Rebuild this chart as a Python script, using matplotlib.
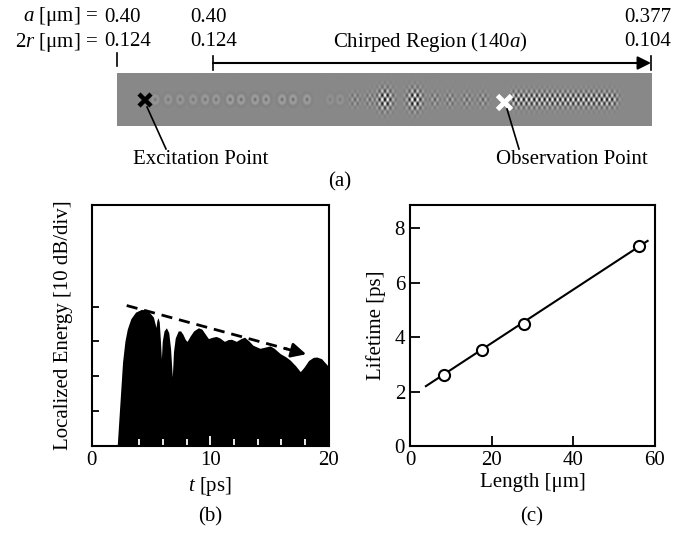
import numpy as np
import matplotlib
matplotlib.use("Agg")
import matplotlib.pyplot as plt
from matplotlib.ticker import MultipleLocator

plt.rcParams['font.family'] = ['Liberation Serif', 'DejaVu Serif']
plt.rcParams['mathtext.fontset'] = 'custom'
plt.rcParams['mathtext.rm'] = 'Liberation Serif'
plt.rcParams['mathtext.it'] = 'Liberation Serif:italic'
plt.rcParams['font.size'] = 15

# ---- data ----
# (a) field snapshot along the waveguide: blob centres (px along strip) and strengths
blob_x = [155, 168, 180, 193, 205, 216, 230, 241, 255, 266, 282, 293, 307,
          330, 340, 355, 370, 385, 415, 435, 450, 467, 483]
blob_a = [0.2, 0.2, 0.22, 0.22, 0.25, 0.25, 0.3, 0.3, 0.3, 0.3, 0.3, 0.3, 0.28,
          0.12, 0.15, 0.4, 0.45, 1.5, 1.5, 0.5, 0.5, 0.5, 0.5]
blob_w = [3.0] * 15 + [4.0, 4.0] + [5.5, 5.5] + [4.0] * 4
dense_start, dense_end, dense_amp = 511, 617, 1.2

# (b) localized energy vs time (div units)
t_ps = [0, 2.15, 2.3, 2.45, 2.6, 2.8, 3.0, 3.3, 3.7, 4.2, 4.6, 4.9, 5.2, 5.35,
        5.42, 5.5, 5.6, 5.7, 5.8, 5.88, 5.95, 6.1, 6.3, 6.5, 6.65, 6.8, 6.9,
        7.05, 7.3, 7.5, 7.7, 7.9, 8.05, 8.3, 8.6, 9.0, 9.3, 9.6, 9.85, 10.2,
        10.5, 10.8, 11.2, 11.5, 11.8, 12.2, 12.6, 12.9, 13.3, 13.6, 14.2, 14.7,
        15.05, 15.4, 15.9, 16.4, 16.75, 17.2, 17.6, 17.9, 18.3, 18.7, 19.0,
        19.4, 20.0]
energy = [0, 0, 0.8, 1.6, 2.4, 3.0, 3.35, 3.65, 3.84, 3.92, 3.9, 3.82, 3.7, 3.5,
          3.4, 3.6, 3.68, 3.55, 3.0, 2.5, 3.0, 3.3, 3.39, 3.25, 2.8, 1.98, 2.7,
          3.1, 3.3, 3.3, 3.2, 3.05, 3.0, 3.15, 3.3, 3.39, 3.35, 3.2, 3.08, 3.12,
          3.14, 3.1, 3.0, 3.05, 3.06, 3.0, 3.08, 3.12, 3.0, 2.89, 2.8, 2.84,
          2.87, 2.8, 2.65, 2.55, 2.46, 2.3, 2.13, 2.25, 2.45, 2.54, 2.55, 2.5,
          2.27]
trend_t = [2.95, 18.1]
trend_e = [4.03, 2.63]

# (c) lifetime vs length
length_um = [8.3, 17.6, 27.9, 56.2]
lifetime_ps = [2.62, 3.53, 4.47, 7.36]
fit_x = [3.9, 58.2]
fit_y = [2.2, 7.54]

fig = plt.figure(figsize=(6.8, 5.4), dpi=100)

# ---- (a) ----
top = fig.add_axes([0, 1 - 200 / 540, 1, 200 / 540])
top.set_xlim(0, 680)
top.set_ylim(200, 0)
top.axis('off')

xs = np.linspace(117, 652, 1100)
ys = np.linspace(-27, 27, 110)
X, Y = np.meshgrid(xs, ys)
field = np.zeros_like(X)
for bx, ba, bw in zip(blob_x, blob_a, blob_w):
    r = np.sqrt((X - bx) ** 2 + (0.75 * Y) ** 2)
    if bw > 3.5:
        # stronger blobs: checker-like core
        field -= ba * np.cos(2 * np.pi * (X - bx) / 5.5) * np.cos(2 * np.pi * Y / 9) * np.exp(-r ** 2 / (2 * bw ** 2))
    else:
        # weak blobs: small ring with a dark centre
        field -= ba * np.cos(2 * np.pi * r / 6.0) * np.exp(-r ** 2 / (2 * bw ** 2))
edge = 0.5 * (np.tanh((X - dense_start) / 2) - np.tanh((X - dense_end) / 4))
field += dense_amp * edge * np.cos(2 * np.pi * (X - dense_start) / 5.2) * np.cos(2 * np.pi * Y / 9) * np.exp(-Y ** 2 / (2 * 5.5 ** 2))
top.imshow(field, cmap='gray', vmin=-1.15, vmax=1.0, extent=(117, 652, 126, 73),
           aspect='auto', interpolation='bilinear')

top.plot([144.5], [100], marker='x', color='k', ms=9, mew=3.2)
top.plot([503.5], [102], marker='x', color='w', ms=10, mew=3.5)
top.plot([147, 166], [107, 149], color='k', lw=1.2)
top.plot([507, 519], [109, 149], color='k', lw=1.2)
top.text(201, 160, 'Excitation Point', ha='center', va='center')
top.text(572, 160, 'Observation Point', ha='center', va='center')
top.text(340, 182, '(a)', ha='center', va='center')

top.text(98, 17, r'$a$ [μm] =', ha='right', va='center')
top.text(104, 17, '0.40', ha='left', va='center')
top.text(98, 42, r'2$r$ [μm] =', ha='right', va='center')
top.text(104, 42, '0.124', ha='left', va='center')
top.text(190, 17, '0.40', ha='left', va='center')
top.text(190, 42, '0.124', ha='left', va='center')
top.text(671, 17, '0.377', ha='right', va='center')
top.text(671, 42, '0.104', ha='right', va='center')
top.text(430, 42, r'Chirped Region (140$a$)', ha='center', va='center')
top.plot([117, 117], [53, 66], color='k', lw=1.2)
top.plot([213, 213], [56, 70], color='k', lw=1.2)
top.plot([651, 651], [56, 70], color='k', lw=1.2)
top.annotate('', xy=(651, 63), xytext=(213, 63),
             arrowprops=dict(arrowstyle='-|>', color='k', lw=1.5, mutation_scale=20,
                             shrinkA=0, shrinkB=0))

# ---- (b) ----
axb = fig.add_axes([0.1349, 0.1746, 0.3485, 0.4458])
axb.fill_between(t_ps, 0, energy, color='k', lw=0)
axb.set_xlim(0, 20)
axb.set_ylim(0, 6.92)
axb.set_xticks([0, 10, 20])
axb.xaxis.set_minor_locator(MultipleLocator(2))
axb.set_yticks([1, 2, 3, 4])
axb.set_yticklabels([])
axb.tick_params(axis='x', direction='in', length=7, width=1.3, color='w', labelcolor='k')
axb.tick_params(axis='x', which='minor', direction='in', length=5, width=1.3, color='w')
axb.tick_params(axis='y', direction='in', length=5, width=1.3, color='k')
for s in axb.spines.values():
    s.set_linewidth(1.5)
tail_t = 16.5
tail_e = trend_e[0] + (tail_t - trend_t[0]) * (trend_e[1] - trend_e[0]) / (trend_t[1] - trend_t[0])
axb.plot([trend_t[0], tail_t], [trend_e[0], tail_e], color='k', lw=2, dashes=(4, 2.5))
axb.annotate('', xy=(trend_t[1], trend_e[1]), xytext=(tail_t - 0.2, tail_e + 0.018),
             arrowprops=dict(arrowstyle='-|>', color='k', lw=2, mutation_scale=22,
                             shrinkA=0, shrinkB=0))
axb.set_xlabel(r'$t$ [ps]', labelpad=4)
axb.set_ylabel('Localized Energy [10 dB/div]', labelpad=10)
fig.text(210 / 680, 1 - 517 / 540, '(b)', ha='center', va='center')

# ---- (c) ----
axc = fig.add_axes([0.6029, 0.1741, 0.3603, 0.4463])
axc.plot(fit_x, fit_y, color='k', lw=1.5)
axc.plot(length_um, lifetime_ps, 'o', mfc='w', mec='k', ms=8, mew=1.5)
axc.set_xlim(0, 60)
axc.set_ylim(0, 8.86)
axc.set_xticks([0, 20, 40, 60])
axc.set_yticks([0, 2, 4, 6, 8])
axc.tick_params(direction='in', length=7, width=1.3)
for s in axc.spines.values():
    s.set_linewidth(1.5)
axc.set_xlabel('Length [μm]', labelpad=2)
axc.set_ylabel('Lifetime [ps]', labelpad=6)
fig.text(532 / 680, 1 - 517 / 540, '(c)', ha='center', va='center')

fig.savefig('out.png', dpi=100, facecolor='white')
